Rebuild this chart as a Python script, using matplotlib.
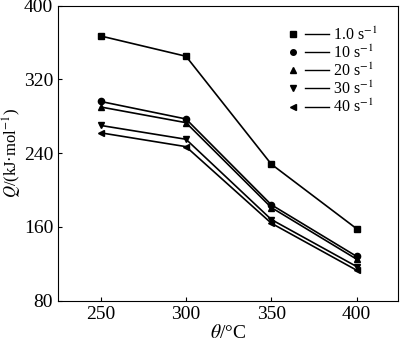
import matplotlib
matplotlib.use('Agg')
import matplotlib.pyplot as plt
from matplotlib.lines import Line2D
from matplotlib.legend_handler import HandlerLine2D

plt.rcParams['font.family'] = ['Liberation Serif', 'DejaVu Serif']
plt.rcParams['mathtext.fontset'] = 'stix'

temps = [250, 300, 350, 400]
rates = ['1.0', '10', '20', '30', '40']
q_values = {
    '1.0': [367, 345, 228, 158],
    '10': [296, 277, 184, 128],
    '20': [290, 273, 181, 125],
    '30': [270, 255, 168, 117],
    '40': [262, 247, 164, 113],
}
markers = ['s', 'o', '^', 'v', '<']


class MarkerFirst(HandlerLine2D):
    # marker on the left, short line to its right
    def create_artists(self, legend, orig_handle, xdescent, ydescent,
                       width, height, fontsize, trans):
        y = height / 2 - ydescent
        line = Line2D([-xdescent + width * 0.33, -xdescent + width], [y, y],
                      color='black', lw=1.0)
        mk = Line2D([-xdescent], [y], marker=orig_handle.get_marker(),
                    markersize=4, color='black', linestyle='none')
        line.set_transform(trans)
        mk.set_transform(trans)
        return [line, mk]


fig = plt.figure(figsize=(4.0, 3.46), dpi=100)
ax = fig.add_axes([0.145, 0.131, 0.849, 0.853])

for rate, m in zip(rates, markers):
    ax.plot(temps, q_values[rate], color='black', lw=1.2, marker=m,
            markersize=4.5, label=rate + r' s$^{-1}$')

ax.set_xlim(225, 424)
ax.set_ylim(80, 400)
ax.set_xticks(temps)
ax.set_yticks([80, 160, 240, 320, 400])
ax.tick_params(direction='in', length=3, labelsize=14, top=False, right=False)
ax.set_xlabel(r'$\mathit{\theta}$/°C', fontsize=14, labelpad=1)
ax.set_ylabel(r'$\mathit{Q}$/(kJ·mol$^{-1}$)', fontsize=12)
ax.yaxis.set_label_coords(-0.1, 0.5)

ax.legend(loc='upper right', bbox_to_anchor=(0.975, 0.967), frameon=False,
          fontsize=11.5, handlelength=2.2, handletextpad=0.3, labelspacing=0.05,
          borderaxespad=0.3, handler_map={Line2D: MarkerFirst()})

fig.savefig('out.png', dpi=100)
